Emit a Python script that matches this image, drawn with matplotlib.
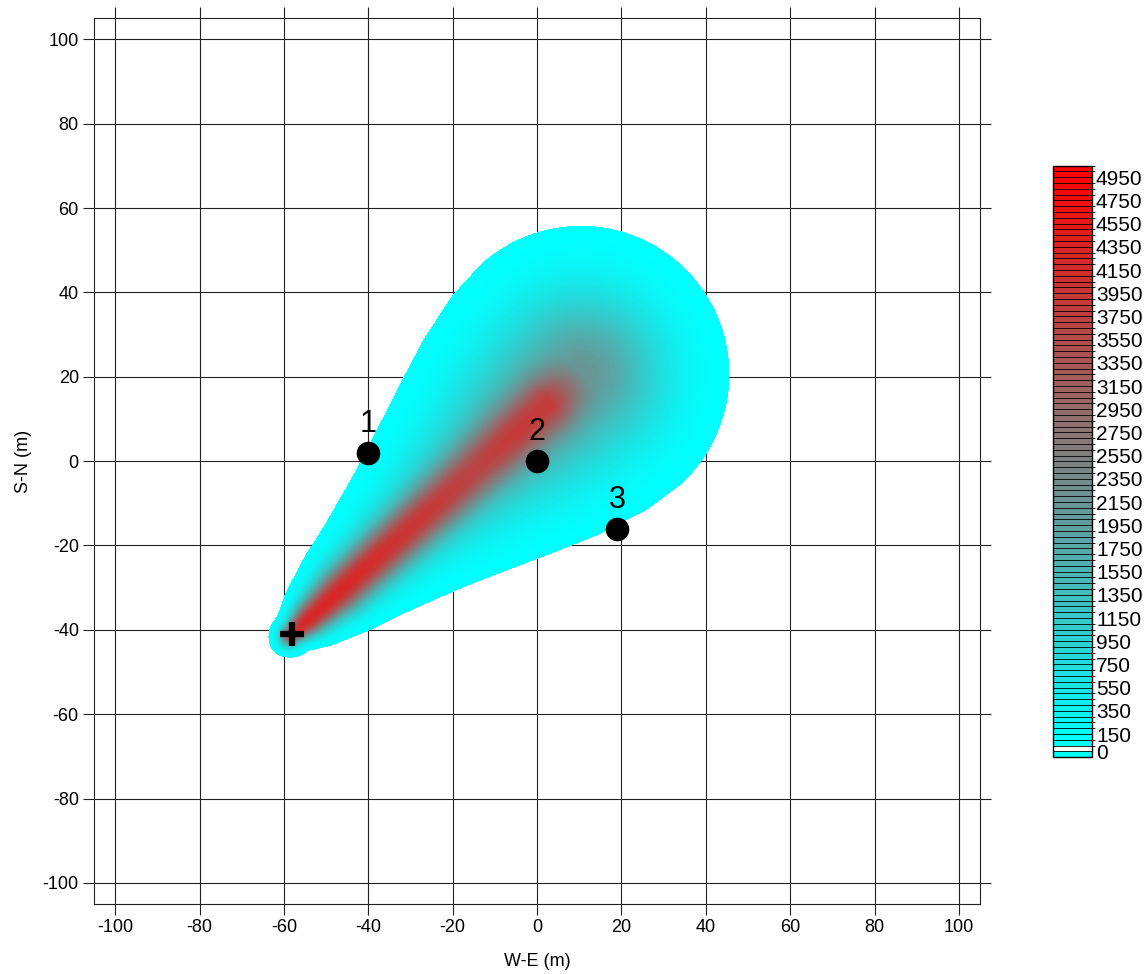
import numpy as np
import matplotlib
matplotlib.use('Agg')
from matplotlib import pyplot as plt
from matplotlib.colors import ListedColormap, BoundaryNorm

plt.rcParams['font.family'] = ['Liberation Sans', 'DejaVu Sans']
plt.rcParams['axes.unicode_minus'] = False

# source and receptor points (m)
source_xy = (-58, -41)
receptor_ids = ['1', '2', '3']
receptor_x = [-40, 0, 19]
receptor_y = [2, 0, -16]

# plume (deg from east), distance downwind of the source (m)
plume_dir = 42
axis_dist = [0, 5, 15, 38, 58, 70, 82, 92]
# broad part of the plume: peak value and cross-wind spread (m)
broad_peak = [1500, 1200, 1000, 1200, 1500, 1900, 2100, 2150]
broad_sigma = [2.0, 3.0, 4.6, 7.5, 10.2, 11.5, 12.5, 12.8]
# narrow red core along the centre line
core_peak = [2500, 3100, 3300, 2800, 2200, 2000, 1800, 0]
core_sigma = [1.5, 2.5, 3.5, 4.0, 4.5, 4.5, 4.5, 4.5]

levels = np.arange(0, 5051, 50)
cbar_ticks = [0] + list(range(150, 5000, 200))
axis_ticks = np.arange(-100, 101, 20)

# concentration grid
g = np.linspace(-105, 105, 841)
X, Y = np.meshgrid(g, g)
a = np.radians(plume_dir)
dx = X - source_xy[0]
dy = Y - source_xy[1]
s = dx * np.cos(a) + dy * np.sin(a)
n = -dx * np.sin(a) + dy * np.cos(a)
sc = np.clip(s, axis_dist[0], axis_dist[-1])
bp = np.interp(sc, axis_dist, broad_peak)
bs = np.interp(sc, axis_dist, broad_sigma)
cp = np.interp(sc, axis_dist, core_peak)
cs = np.interp(sc, axis_dist, core_sigma)
# round ends behind the source and past the last station
taper = np.exp(-(s - sc) ** 2 / (2 * bs ** 2))
conc = (bp * np.exp(-n ** 2 / (2 * bs ** 2)) + cp * np.exp(-n ** 2 / (2 * cs ** 2))) * taper
conc = np.clip(conc, 1, None)

# white (empty) first band, then cyan -> red
ramp = [(t, 1 - t, 1 - t, 1) for t in np.linspace(0, 1, len(levels) - 2)]
cmap = ListedColormap([(1, 1, 1, 0)] + ramp).with_extremes(under='cyan')
norm = BoundaryNorm(levels, cmap.N)

fig = plt.figure(figsize=(11.47, 9.74), dpi=100)
ax = fig.add_axes([0.082, 0.0719, 0.7724, 0.9093])
cax = fig.add_axes([0.9183, 0.2225, 0.0335, 0.6074])

cf = ax.contourf(X, Y, conc, levels=levels, cmap=cmap, norm=norm, extend='min', zorder=1)

ax.plot(receptor_x, receptor_y, 'o', color='k', ms=16, zorder=5)
for lab, px, py in zip(receptor_ids, receptor_x, receptor_y):
    ax.annotate(lab, (px, py), xytext=(0, 10), textcoords='offset points',
                ha='center', va='bottom', fontsize=22, zorder=6)
ax.plot(source_xy[0], source_xy[1], '+', color='k', ms=17, mew=4.5, zorder=6)

ax.set_xlim(-105, 105)
ax.set_ylim(-105, 105)
ax.set_xticks(axis_ticks)
ax.set_yticks(axis_ticks)
ax.set_axisbelow(True)
ax.grid(True, color='#222222', lw=0.8)
ax.tick_params(direction='out', length=8, width=0.8, color='#222222',
               top=True, right=True, labelsize=13, pad=3)
for sp in ax.spines.values():
    sp.set_linewidth(0.8)
    sp.set_color('#222222')
ax.set_xlabel('W-E (m)', fontsize=13, labelpad=12)
ax.set_ylabel('S-N (m)', fontsize=13, labelpad=8)

cb = fig.colorbar(cf, cax=cax, ticks=cbar_ticks, drawedges=True,
                  extendrect=True, extendfrac=1 / 101)
cb.dividers.set_color('k')
cb.dividers.set_linewidth(0.6)
cb.outline.set_linewidth(1)
cax.tick_params(length=0, labelsize=15, pad=3)

plt.savefig('out.png', dpi=100)
